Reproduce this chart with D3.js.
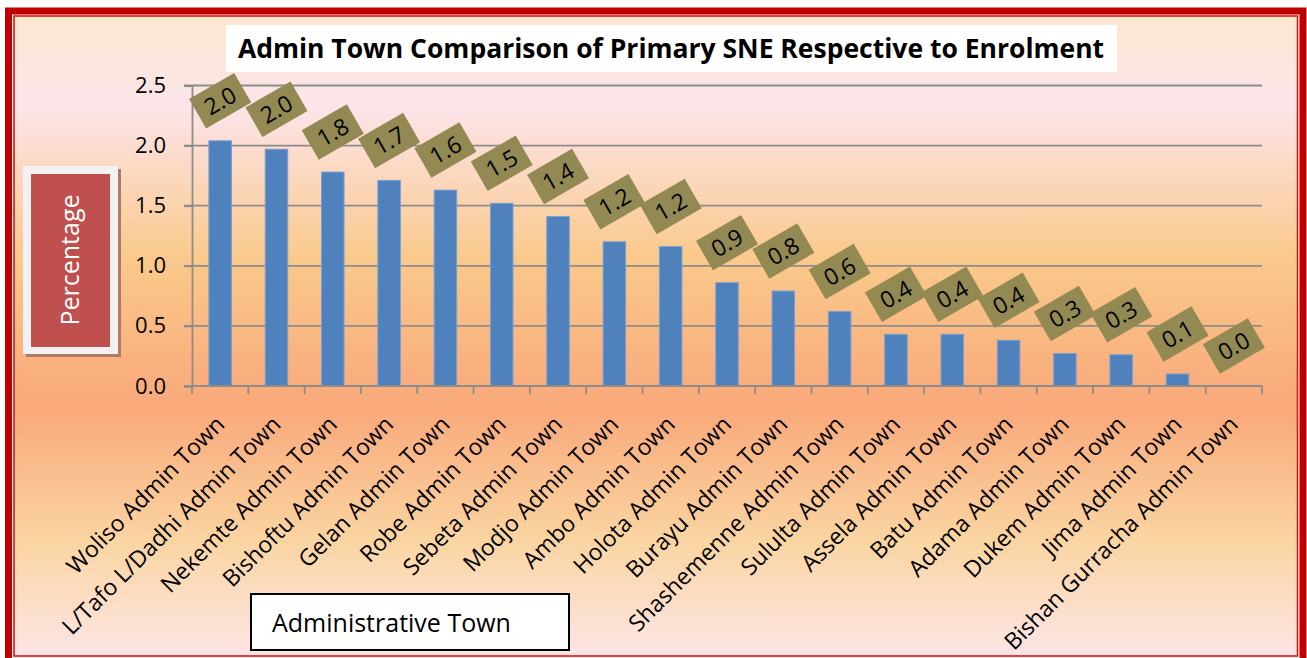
<!DOCTYPE html>
<html>
<head>
<meta charset="utf-8">
<script src="https://cdn.jsdelivr.net/npm/d3@7"></script>
<style>
  body { margin: 0; background: #ffffff; }
  svg { display: block; }
  text { font-family: "Open Sans", Lato, sans-serif; }
</style>
</head>
<body>
<div id="chart"></div>
<script>
var towns = ["Woliso Admin Town", "L/Tafo L/Dadhi Admin Town", "Nekemte Admin Town", "Bishoftu Admin Town",
  "Gelan Admin Town", "Robe Admin Town", "Sebeta Admin Town", "Modjo Admin Town", "Ambo Admin Town",
  "Holota Admin Town", "Burayu Admin Town", "Shashemenne Admin Town", "Sululta Admin Town", "Assela Admin Town",
  "Batu Admin Town", "Adama Admin Town", "Dukem Admin Town", "Jima Admin Town", "Bishan Gurracha Admin Town"];
var values = [2.04, 1.97, 1.78, 1.71, 1.63, 1.52, 1.41, 1.20, 1.16, 0.86, 0.79, 0.62, 0.43, 0.43, 0.38, 0.27, 0.26, 0.10, 0.0];
var yTicks = [0, 0.5, 1.0, 1.5, 2.0, 2.5];

var chartTitle = "Admin Town Comparison of Primary SNE Respective to Enrolment";
var yTitle = "Percentage";
var xTitle = "Administrative Town";

var width = 1307, height = 658;
var svg = d3.select("#chart").append("svg")
  .attr("width", width)
  .attr("height", height);

// background gradient
var defs = svg.append("defs");
var grad = defs.append("linearGradient")
  .attr("id", "bg")
  .attr("x1", 0).attr("y1", 0).attr("x2", 0).attr("y2", 1);
[[0, "#fbe8cf"], [0.14, "#fce4ea"], [0.38, "#fac98b"], [0.61, "#f9a87a"], [0.82, "#fad5a2"], [1, "#fde5e6"]]
  .forEach(function(s) { grad.append("stop").attr("offset", s[0]).attr("stop-color", s[1]); });

// outer frame
svg.append("rect")
  .attr("x", 8.5).attr("y", 11).attr("width", 1294.5).attr("height", 656)
  .attr("fill", "#fff5ee").attr("stroke", "#c00000").attr("stroke-width", 7);
svg.append("rect")
  .attr("x", 14).attr("y", 16).attr("width", 1283.5).attr("height", 640)
  .attr("fill", "url(#bg)").attr("stroke", "#d81818").attr("stroke-width", 1.6);

var x = d3.scaleBand()
  .domain(towns)
  .range([192, 1262])
  .paddingInner(0.6)
  .paddingOuter(0.3);
var y = d3.scaleLinear()
  .domain([0, 2.5])
  .range([386, 85.5]);

// gridlines
svg.append("g")
  .selectAll("line")
  .data(yTicks.filter(function(d) { return d > 0; }))
  .enter().append("line")
    .attr("x1", 184).attr("x2", 1262)
    .attr("y1", function(d) { return y(d); })
    .attr("y2", function(d) { return y(d); })
    .attr("stroke", "#8c8c8c").attr("stroke-width", 1.8);

// y axis
var yAxis = d3.axisLeft(y)
  .tickValues(yTicks)
  .tickFormat(d3.format(".1f"))
  .tickSize(8)
  .tickPadding(18);
var gy = svg.append("g")
  .attr("transform", "translate(192,0)")
  .call(yAxis);
gy.select(".domain").attr("stroke", "#8c8c8c").attr("stroke-width", 1.8);
gy.selectAll(".tick line").attr("stroke", "#8c8c8c").attr("stroke-width", 1.8);
gy.selectAll(".tick text")
  .attr("fill", "#000")
  .style("font-family", "'Open Sans', sans-serif")
  .style("font-size", "22px");

// bars
svg.append("g")
  .selectAll("rect")
  .data(values)
  .enter().append("rect")
    .attr("x", function(d, i) { return x(towns[i]); })
    .attr("y", function(d) { return y(d); })
    .attr("width", x.bandwidth())
    .attr("height", function(d) { return y(0) - y(d); })
    .attr("fill", "#4f81bd")
    .attr("stroke", "#7ba0d0")
    .attr("stroke-width", 1);

// x axis
var step = x.step();
svg.append("line")
  .attr("x1", 184).attr("x2", 1262)
  .attr("y1", y(0)).attr("y2", y(0))
  .attr("stroke", "#8c8c8c").attr("stroke-width", 1.8);
svg.append("g")
  .selectAll("line")
  .data(d3.range(towns.length + 1))
  .enter().append("line")
    .attr("x1", function(i) { return 192 + i * step; })
    .attr("x2", function(i) { return 192 + i * step; })
    .attr("y1", y(0)).attr("y2", y(0) + 8)
    .attr("stroke", "#8c8c8c").attr("stroke-width", 1.8);

// category labels
svg.append("g")
  .selectAll("text")
  .data(towns)
  .enter().append("text")
    .attr("transform", function(d) {
      return "translate(" + (x(d) + x.bandwidth() / 2) + "," + 420 + ") rotate(-45)";
    })
    .attr("text-anchor", "end")
    .attr("dy", "0.35em")
    .style("font-size", "23px")
    .text(function(d) { return d; });

// data labels
var fmt = d3.format(".1f");
var labels = svg.append("g")
  .selectAll("g")
  .data(values)
  .enter().append("g")
    .attr("transform", function(d, i) {
      return "translate(" + (x(towns[i]) + x.bandwidth() / 2) + "," + (y(d) - 40) + ") rotate(-30)";
    });
labels.append("rect")
  .attr("x", -26).attr("y", -17)
  .attr("width", 52).attr("height", 34)
  .attr("fill", "#938953");
labels.append("text")
  .attr("text-anchor", "middle")
  .attr("dy", "0.36em")
  .style("font-size", "23px")
  .text(function(d) { return fmt(d); });

// title
svg.append("rect")
  .attr("x", 226).attr("y", 25).attr("width", 891).attr("height", 47)
  .attr("fill", "#ffffff");
svg.append("text")
  .attr("x", 671).attr("y", 58)
  .attr("text-anchor", "middle")
  .style("font-size", "26.5px")
  .style("font-weight", "bold")
  .text(chartTitle);

// y title box
svg.append("rect")
  .attr("x", 26).attr("y", 169).attr("width", 95).attr("height", 188)
  .attr("fill", "#b07a66");
svg.append("rect")
  .attr("x", 23).attr("y", 166).attr("width", 95).attr("height", 188)
  .attr("fill", "#f2f2f2");
svg.append("rect")
  .attr("x", 31).attr("y", 174).attr("width", 79).attr("height", 173)
  .attr("fill", "#c0504d");
svg.append("text")
  .attr("transform", "translate(70,260) rotate(-90)")
  .attr("text-anchor", "middle")
  .attr("dy", "0.35em")
  .attr("fill", "#ffffff")
  .style("font-size", "25px")
  .text(yTitle);

// x title box
svg.append("rect")
  .attr("x", 251).attr("y", 594).attr("width", 318).attr("height", 56)
  .attr("fill", "#ffffff").attr("stroke", "#000").attr("stroke-width", 2);
svg.append("text")
  .attr("x", 272).attr("y", 632)
  .style("font-size", "25px")
  .text(xTitle);
</script>
</body>
</html>
